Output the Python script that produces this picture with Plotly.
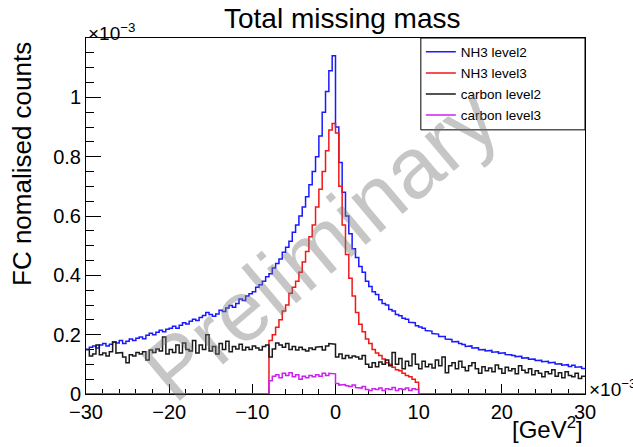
import numpy as np
import plotly.graph_objects as go

# ---------------- data (values in units of 1e-3) ----------------
x_min, x_max, n_bins = -30.0, 30.0, 150   # x in units of 1e-3 GeV^2

nh3_level2 = [
    0.150, 0.158, 0.162, 0.155, 0.165, 0.170, 0.162, 0.168, 0.175, 0.172,
    0.180, 0.170, 0.178, 0.185, 0.180, 0.188, 0.192, 0.186, 0.198, 0.205,
    0.200, 0.208, 0.215, 0.210, 0.218, 0.222, 0.228, 0.222, 0.232, 0.240,
    0.236, 0.245, 0.252, 0.248, 0.258, 0.265, 0.275, 0.268, 0.262, 0.270,
    0.282, 0.278, 0.290, 0.298, 0.292, 0.305, 0.320, 0.315, 0.330, 0.338,
    0.345, 0.360, 0.368, 0.380, 0.395, 0.405, 0.425, 0.440, 0.455, 0.478,
    0.495, 0.515, 0.545, 0.570, 0.600, 0.630, 0.665, 0.705, 0.750, 0.800,
    0.870, 0.950, 1.020, 1.090, 1.140, 0.900, 0.780, 0.680, 0.600, 0.540,
    0.490, 0.460, 0.430, 0.410, 0.380, 0.362, 0.345, 0.335, 0.318, 0.305,
    0.300, 0.285, 0.280, 0.268, 0.264, 0.255, 0.252, 0.242, 0.240, 0.230,
    0.226, 0.222, 0.214, 0.212, 0.204, 0.202, 0.194, 0.194, 0.185, 0.184,
    0.176, 0.177, 0.170, 0.167, 0.160, 0.162, 0.155, 0.156, 0.149, 0.150,
    0.145, 0.147, 0.141, 0.142, 0.137, 0.139, 0.133, 0.132, 0.130, 0.126,
    0.127, 0.121, 0.122, 0.117, 0.118, 0.113, 0.114, 0.109, 0.110, 0.105,
    0.107, 0.101, 0.102, 0.097, 0.099, 0.093, 0.097, 0.090, 0.092, 0.086,
]

nh3_level3 = [0.0] * 55 + [
    0.180, 0.200, 0.225, 0.250, 0.280, 0.300, 0.340, 0.360, 0.380, 0.410,
    0.445, 0.480, 0.530, 0.570, 0.630, 0.690, 0.750, 0.820, 0.890, 0.912,
    0.880, 0.700, 0.570, 0.470, 0.390, 0.330, 0.275, 0.235, 0.210, 0.185,
    0.170, 0.150, 0.138, 0.130, 0.118, 0.105, 0.100, 0.090, 0.082, 0.078,
    0.070, 0.062, 0.058, 0.050, 0.040,
] + [0.0] * 50

carbon_level2 = [
    0.150, 0.128, 0.135, 0.165, 0.132, 0.138, 0.128, 0.142, 0.175, 0.138,
    0.140, 0.125, 0.105, 0.132, 0.128, 0.140, 0.135, 0.142, 0.115, 0.148,
    0.140, 0.152, 0.145, 0.192, 0.135, 0.150, 0.140, 0.165, 0.138, 0.172,
    0.150, 0.145, 0.180, 0.138, 0.165, 0.150, 0.200, 0.145, 0.160, 0.135,
    0.170, 0.150, 0.178, 0.142, 0.160, 0.152, 0.168, 0.148, 0.158, 0.150,
    0.162, 0.155, 0.148, 0.160, 0.165, 0.125, 0.152, 0.172, 0.165, 0.158,
    0.170, 0.150, 0.160, 0.148, 0.158, 0.150, 0.145, 0.155, 0.150, 0.158,
    0.160, 0.148, 0.162, 0.170, 0.168, 0.125, 0.135, 0.120, 0.130, 0.122,
    0.128, 0.125, 0.118, 0.130, 0.100, 0.090, 0.105, 0.092, 0.108, 0.100,
    0.115, 0.095, 0.140, 0.100, 0.120, 0.085, 0.110, 0.095, 0.135, 0.100,
    0.085, 0.110, 0.092, 0.100, 0.088, 0.115, 0.095, 0.125, 0.072, 0.095,
    0.105, 0.085, 0.110, 0.090, 0.078, 0.095, 0.105, 0.085, 0.070, 0.092,
    0.078, 0.088, 0.075, 0.098, 0.085, 0.070, 0.090, 0.078, 0.085, 0.068,
    0.095, 0.080, 0.072, 0.085, 0.065, 0.078, 0.070, 0.058, 0.075, 0.068,
    0.082, 0.060, 0.072, 0.055, 0.075, 0.062, 0.058, 0.070, 0.052, 0.060,
]

carbon_level3 = [0.0] * 55 + [
    0.045, 0.060, 0.065, 0.055, 0.070, 0.062, 0.072, 0.058, 0.065, 0.050,
    0.060, 0.055, 0.062, 0.058, 0.065, 0.060, 0.070, 0.062, 0.070, 0.068,
    0.035, 0.030, 0.032, 0.028, 0.025, 0.030, 0.022, 0.020, 0.025, 0.015,
    0.012, 0.018, 0.015, 0.020, 0.012, 0.018, 0.015, 0.022, 0.012, 0.018,
    0.015, 0.020, 0.012, 0.018, 0.015,
] + [0.0] * 50

series_names = ["NH3 level2", "NH3 level3", "carbon level2", "carbon level3"]
series_values = [nh3_level2, nh3_level3, carbon_level2, carbon_level3]
series_colors = ["#1a1aff", "#f01818", "#1a1a1a", "#cc22ee"]

y_ticks = [0, 0.2, 0.4, 0.6, 0.8, 1.0]
x_ticks = [-30, -20, -10, 0, 10, 20, 30]

# ---------------- figure ----------------
FONT = "Liberation Sans, Arial, Helvetica, sans-serif"
edges = np.linspace(x_min, x_max, n_bins + 1)

fig = go.Figure()
for name, vals, col in zip(series_names, series_values, series_colors):
    v = np.asarray(vals, dtype=float)
    xs = np.repeat(edges, 2)[1:-1]
    ys = np.repeat(v, 2)
    fig.add_trace(go.Scatter(
        x=xs, y=ys, mode="lines", name=name, legendgroup=name,
        line=dict(color=col, width=1.5), hoverinfo="skip",
    ))

fig.update_layout(
    width=633, height=447,
    margin=dict(l=86, r=48, t=38, b=53),
    paper_bgcolor="white", plot_bgcolor="white",
    font=dict(family=FONT, color="black"),
    showlegend=True,
    legend=dict(
        x=0.671, y=1.004, xanchor="left", yanchor="top",
        bgcolor="rgba(0,0,0,0)", borderwidth=0,
        font=dict(size=13.5, family=FONT),
        tracegroupgap=0.5,
    ),
)

fig.update_xaxes(
    range=[x_min, x_max], showgrid=False, zeroline=False,
    showline=True, linecolor="black", linewidth=1, mirror=True,
    ticks="inside", ticklen=10, tickcolor="black", tickwidth=1,
    tickvals=x_ticks, tickfont=dict(size=20, family=FONT),
    layer="below traces",
    minor=dict(dtick=2, ticks="inside", ticklen=5, tickcolor="black", tickwidth=1, showgrid=False),
)
fig.update_yaxes(
    range=[0, 1.2], showgrid=False, zeroline=False,
    showline=True, linecolor="black", linewidth=1, mirror=True,
    ticks="inside", ticklen=15, tickcolor="black", tickwidth=1,
    tickvals=y_ticks, tickfont=dict(size=20, family=FONT),
    layer="below traces",
    minor=dict(dtick=0.05, ticks="inside", ticklen=8, tickcolor="black", tickwidth=1, showgrid=False),
)

# legend frame
fig.add_shape(type="rect", xref="paper", yref="paper",
              x0=0.671, x1=1.0, y0=0.742, y1=1.0,
              line=dict(color="black", width=1), fillcolor="rgba(0,0,0,0)")

ann = []
ann.append(dict(text="Total missing mass", xref="paper", yref="paper",
                x=(342 - 86) / 499, y=(394 - 18.5) / 356, xanchor="center", yanchor="middle",
                showarrow=False, font=dict(size=28, family=FONT)))
ann.append(dict(text="FC nomalised counts", xref="paper", yref="paper",
                x=(22 - 86) / 499, y=(394 - 164) / 356, xanchor="center", yanchor="middle",
                textangle=-90, showarrow=False, font=dict(size=26, family=FONT)))
ann.append(dict(text="[GeV<sup>2</sup>]", xref="paper", yref="paper",
                x=1.0, y=(394 - 428) / 356, xanchor="right", yanchor="middle",
                showarrow=False, font=dict(size=24, family=FONT)))
ann.append(dict(text="×10<sup>−3</sup>", xref="paper", yref="paper",
                x=0.0, y=(394 - 46) / 356, xanchor="left", yanchor="bottom",
                showarrow=False, font=dict(size=19, family=FONT)))
ann.append(dict(text="×10<sup>−3</sup>", xref="paper", yref="paper",
                x=(587 - 86) / 499, y=(394 - 402) / 356, xanchor="left", yanchor="bottom",
                showarrow=False, font=dict(size=19, family=FONT)))
ann.append(dict(text="Preliminary", xref="paper", yref="paper",
                x=(320 - 86) / 499, y=(394 - 244) / 356, xanchor="center", yanchor="middle",
                textangle=-40, showarrow=False,
                font=dict(size=86, family=FONT, color="rgba(120,120,120,0.42)")))
fig.update_layout(annotations=ann)

fig.write_html("out.html")
